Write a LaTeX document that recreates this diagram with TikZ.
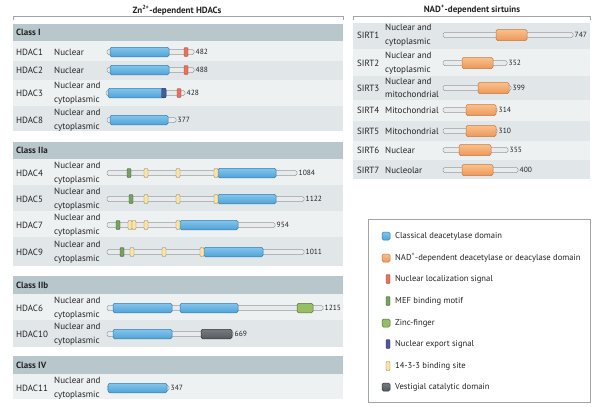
\documentclass[tikz,border=0pt]{standalone}
\usepackage{fontspec}
\setmainfont{PT Sans}

\definecolor{head}{RGB}{184,199,204}
\definecolor{rowA}{RGB}{238,241,242}
\definecolor{rowB}{RGB}{225,230,232}
\definecolor{bbfill}{RGB}{232,234,235}
\definecolor{bbline}{RGB}{150,156,160}
\definecolor{hdactop}{RGB}{130,198,238}
\definecolor{hdacbot}{RGB}{82,162,214}
\definecolor{hdacline}{RGB}{50,125,175}
\definecolor{sirttop}{RGB}{250,192,138}
\definecolor{sirtbot}{RGB}{236,152,92}
\definecolor{sirtline}{RGB}{200,120,60}
\definecolor{nlsc}{RGB}{232,112,92}
\definecolor{mefc}{RGB}{120,160,95}
\definecolor{zincc}{RGB}{150,190,100}
\definecolor{nesc}{RGB}{75,90,150}
\definecolor{bindc}{RGB}{250,228,165}
\definecolor{vestc}{RGB}{85,90,95}
\definecolor{txt}{RGB}{35,35,35}
\definecolor{frame}{RGB}{160,165,168}

\tikzset{
  backbone/.style={draw=bbline, fill=bbfill, rounded corners=1.5pt, line width=0.5pt},
  hdac/.style={draw=hdacline, top color=hdactop, bottom color=hdacbot, rounded corners=1.5pt, line width=0.5pt},
  sirt/.style={draw=sirtline, top color=sirttop, bottom color=sirtbot, rounded corners=1.5pt, line width=0.5pt},
  nls/.style={draw=nlsc!70!black, fill=nlsc, rounded corners=1pt, line width=0.4pt},
  mef/.style={draw=mefc!60!black, fill=mefc, rounded corners=1pt, line width=0.4pt},
  zinc/.style={draw=zincc!60!black, fill=zincc, rounded corners=1.5pt, line width=0.5pt},
  nes/.style={draw=nesc!60!black, fill=nesc, rounded corners=1pt, line width=0.4pt},
  bind/.style={draw=bindc!60!black, fill=bindc, rounded corners=1pt, line width=0.4pt},
  vest/.style={draw=vestc!60!black, top color=vestc!80, bottom color=vestc, rounded corners=1.5pt, line width=0.5pt},
  brk/.style={draw=frame, line width=0.6pt},
  pname/.style={anchor=west, inner sep=0pt, text=txt, font=\fontsize{9}{10}\selectfont},
  loc/.style={anchor=west, inner sep=0pt, align=left, text=txt, font=\fontsize{9}{13.5}\selectfont},
  num/.style={anchor=west, inner sep=0pt, text=txt, font=\fontsize{7.5}{8}\selectfont},
  cls/.style={anchor=west, inner sep=0pt, text=txt, font=\bfseries\fontsize{9}{10}\selectfont},
  ttl/.style={inner sep=0pt, text=txt, font=\bfseries\fontsize{9}{10}\selectfont},
  lgtext/.style={anchor=west, inner sep=0pt, text=txt, font=\fontsize{8.6}{10}\selectfont},
}

\newcommand{\chain}[5]{\draw[backbone] (#2,#1-2.5) rectangle (#3,#1+2.5);
  \node[num] (#4) at (#3+1.5,#1) {#5};}
\newcommand{\dom}[5][4.75]{\draw[#2] (#4,#3-#1) rectangle (#5,#3+#1);}
\newcommand{\mot}[3]{\draw[#1] (#3-2,#2-4.5) rectangle (#3+2,#2+4.5);}

\begin{document}
\begin{tikzpicture}[x=1pt,y=-1pt]
\useasboundingbox (0,0) rectangle (600,407);

\foreach \ya/\yb/\c in {24/41/head, 41/61/rowA, 61/80/rowB, 80/106/rowA, 106/131/rowB,
  142/159/head, 159/185/rowA, 185/211/rowB, 211/237/rowA, 237/266/rowB,
  276/294/head, 294/320/rowA, 320/347/rowB, 356/374/head, 374/399/rowA}
  \fill[\c] (13,\ya) rectangle (343,\yb);
\foreach \ya/\yb/\c in {23/49/rowB, 49/76/rowA, 76/100/rowB, 100/121/rowA,
  121/141/rowB, 141/160/rowA, 160/179/rowB}
  \fill[\c] (353,\ya) rectangle (590,\yb);

\draw[brk] (13,20) |- (343,16) -- (343,20);
\draw[brk] (353,20) |- (590,16) -- (590,20);
\node[ttl] (t-zn) at (177,10) {Zn\textsuperscript{2+}-dependent HDACs};
\node[ttl] (t-nad) at (472,10) {NAD\textsuperscript{+}-dependent sirtuins};

\node[cls] (c-1) at (16,32.5) {Class I};
\node[cls] (c-2a) at (16,150.5) {Class IIa};
\node[cls] (c-2b) at (16,285) {Class IIb};
\node[cls] (c-4) at (16,365) {Class IV};

\node[pname] (h1) at (16,52) {HDAC1};
\node[loc] (h1-loc) at (54,52) {Nuclear};
\chain{52}{107}{194}{h1-len}{482}
\dom{hdac}{52}{110}{169}
\mot{nls}{52}{186}

\node[pname] (h2) at (16,70) {HDAC2};
\node[loc] (h2-loc) at (54,70) {Nuclear};
\chain{70}{107}{194}{h2-len}{488}
\dom{hdac}{70}{110}{169}
\mot{nls}{70}{186}

\node[pname] (h3) at (16,93) {HDAC3};
\node[loc] (h3-loc) at (54,93) {Nuclear and\\cytoplasmic};
\chain{93}{106}{185}{h3-len}{428}
\dom{hdac}{93}{108}{166}
\dom{nes}{93}{161.5}{166}
\mot{nls}{93}{179}

\node[pname] (h8) at (16,120) {HDAC8};
\node[loc] (h8-loc) at (54,120) {Nuclear and\\cytoplasmic};
\chain{120}{107}{176}{h8-len}{377}
\dom{hdac}{120}{110}{168}

\node[pname] (h4) at (16,173) {HDAC4};
\node[loc] (h4-loc) at (54,173) {Nuclear and\\cytoplasmic};
\chain{173}{107}{297}{h4-len}{1084}
\dom{hdac}{173}{218}{276}
\mot{mef}{173}{129}
\foreach \x in {146,178,216} {\mot{bind}{173}{\x}}

\node[pname] (h5) at (16,199) {HDAC5};
\node[loc] (h5-loc) at (54,199) {Nuclear and\\cytoplasmic};
\chain{199}{107}{304}{h5-len}{1122}
\dom{hdac}{199}{218}{276}
\mot{mef}{199}{131}
\foreach \x in {146,178,216} {\mot{bind}{199}{\x}}

\node[pname] (h7) at (16,225) {HDAC7};
\node[loc] (h7-loc) at (54,225) {Nuclear and\\cytoplasmic};
\chain{225}{107}{275}{h7-len}{954}
\dom{hdac}{225}{180}{238}
\mot{mef}{225}{118}
\foreach \x in {130,134,146,178} {\mot{bind}{225}{\x}}

\node[pname] (h9) at (16,252) {HDAC9};
\node[loc] (h9-loc) at (54,252) {Nuclear and\\cytoplasmic};
\chain{252}{107}{304}{h9-len}{1011}
\dom{hdac}{252}{204}{263}
\mot{mef}{252}{122}
\foreach \x in {132,164,202} {\mot{bind}{252}{\x}}

\node[pname] (h6) at (16,308) {HDAC6};
\node[loc] (h6-loc) at (54,308) {Nuclear and\\cytoplasmic};
\chain{308}{107}{323}{h6-len}{1215}
\dom{hdac}{308}{113}{172}
\dom{hdac}{308}{180}{238}
\dom{zinc}{308}{297}{313}

\node[pname] (h10) at (16,334) {HDAC10};
\node[loc] (h10-loc) at (54,334) {Nuclear and\\cytoplasmic};
\chain{334}{107}{233}{h10-len}{669}
\dom{hdac}{334}{113}{172}
\dom{vest}{334}{201}{232}

\node[pname] (h11) at (16,388) {HDAC11};
\node[loc] (h11-loc) at (54,388) {Nuclear and\\cytoplasmic};
\chain{388}{107}{169}{h11-len}{347}
\dom{hdac}{388}{108}{167}

\node[pname] (s1) at (357,35) {SIRT1};
\node[loc] (s1-loc) at (385,35) {Nuclear and\\cytoplasmic};
\chain{35}{443}{573}{s1-len}{747}
\dom[5.5]{sirt}{35}{496}{527}

\node[pname] (s2) at (357,63) {SIRT2};
\node[loc] (s2-loc) at (385,63) {Nuclear and\\cytoplasmic};
\chain{63}{443}{507}{s2-len}{352}
\dom[5.5]{sirt}{63}{462}{493}

\node[pname] (s3) at (357,88) {SIRT3};
\node[loc] (s3-loc) at (385,88) {Nuclear and\\mitochondrial};
\chain{88}{443}{511}{s3-len}{399}
\dom[5.5]{sirt}{88}{478}{509}

\node[pname] (s4) at (357,110) {SIRT4};
\node[loc] (s4-loc) at (385,110) {Mitochondrial};
\chain{110}{443}{497}{s4-len}{314}
\dom[5.5]{sirt}{110}{466}{496}

\node[pname] (s5) at (357,131) {SIRT5};
\node[loc] (s5-loc) at (385,131) {Mitochondrial};
\chain{131}{443}{497}{s5-len}{310}
\dom[5.5]{sirt}{131}{466}{496}

\node[pname] (s6) at (357,150) {SIRT6};
\node[loc] (s6-loc) at (385,150) {Nuclear};
\chain{150}{443}{508}{s6-len}{355}
\dom[5.5]{sirt}{150}{459}{491}

\node[pname] (s7) at (357,170) {SIRT7};
\node[loc] (s7-loc) at (385,170) {Nucleolar};
\chain{170}{443}{518}{s7-len}{400}
\dom[5.5]{sirt}{170}{462}{493}

\draw[draw=frame, fill=white, line width=0.6pt] (368,219) rectangle (590,402);
\draw[hdac] (382,232) rectangle (390,240);
\draw[sirt] (382,254) rectangle (390,262);
\mot{nls}{279}{388}
\mot{mef}{301}{388}
\draw[zinc] (382,319) rectangle (390,327);
\mot{nes}{344}{388}
\mot{bind}{366}{388}
\draw[vest] (382,383) rectangle (390,391);
\foreach \i/\y/\t in {1/236/Classical deacetylase domain,
  2/258/NAD\textsuperscript{+}-dependent deacetylase or deacylase domain,
  3/279/Nuclear localization signal, 4/301/MEF binding motif,
  5/323/Zinc-finger, 6/344/Nuclear export signal,
  7/366/14-3-3 binding site, 8/387/Vestigial catalytic domain}
  \node[lgtext] (lg\i) at (395,\y) {\t};
\end{tikzpicture}
\end{document}
